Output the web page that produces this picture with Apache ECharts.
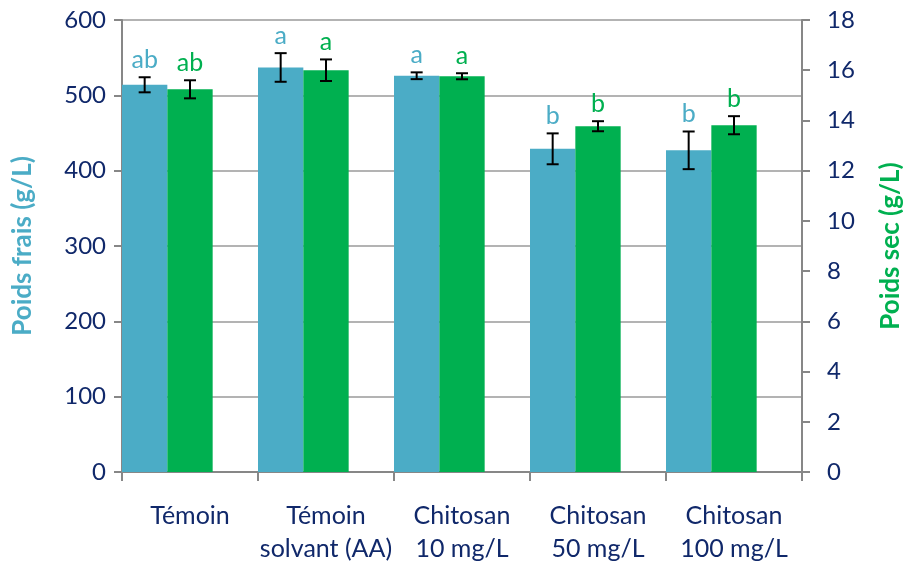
<!DOCTYPE html>
<html>
<head>
<meta charset="utf-8">
<script src="https://cdn.jsdelivr.net/npm/echarts@6/dist/echarts.min.js"></script>
<style>
html,body{margin:0;padding:0;background:#fff;}
#chart{width:903px;height:563px;}
</style>
</head>
<body>
<div id="chart"></div>
<script>
const categories = ['Témoin', 'Témoin\nsolvant (AA)', 'Chitosan\n10 mg/L', 'Chitosan\n50 mg/L', 'Chitosan\n100 mg/L'];
const freshWeight = [514, 537, 526, 429, 427];
const freshError = [10, 19, 4.5, 20.5, 25];
const freshLetters = ['ab', 'a', 'a', 'b', 'b'];
const dryWeight = [15.24, 16.0, 15.76, 13.77, 13.81];
const dryError = [0.36, 0.43, 0.12, 0.2, 0.36];
const dryLetters = ['ab', 'a', 'a', 'b', 'b'];
const leftAxis = { min: 0, max: 600, interval: 100 };
const rightAxis = { min: 0, max: 18, interval: 2 };

const BLUE = '#4BACC6';
const GREEN = '#00B050';
const NAVY = '#10286A';
const AXIS_GRAY = '#878787';
const FONT = 'Lato, "Open Sans", sans-serif';

function errorRenderer(offsetFrac, letters, color) {
  return function (params, api) {
    const i = api.value(0), v = api.value(1), e = api.value(2);
    const w = api.size([1, 0])[0];
    const c = api.coord([i, v]);
    const x = c[0] + offsetFrac * w;
    const top = api.coord([i, v + e])[1];
    const bot = api.coord([i, v - e])[1];
    const cap = 6;
    const st = { stroke: '#000', lineWidth: 2 };
    return {
      type: 'group',
      children: [
        { type: 'line', shape: { x1: x, y1: top, x2: x, y2: bot }, style: st },
        { type: 'line', shape: { x1: x - cap, y1: top, x2: x + cap, y2: top }, style: st },
        { type: 'line', shape: { x1: x - cap, y1: bot, x2: x + cap, y2: bot }, style: st },
        { type: 'text', x: x, y: top - 5,
          style: { text: letters[i], fill: color, font: '25px ' + FONT, textAlign: 'center', textVerticalAlign: 'bottom' } }
      ]
    };
  };
}

const chart = echarts.init(document.getElementById('chart'), null, { renderer: 'canvas' });
chart.setOption({
  animation: false,
  backgroundColor: '#fff',
  grid: { left: 122, right: 101, top: 20, bottom: 91, containLabel: false, outerBoundsMode: 'none' },
  xAxis: {
    type: 'category',
    data: categories,
    boundaryGap: true,
    axisLine: { show: true, lineStyle: { color: AXIS_GRAY, width: 2 } },
    axisTick: { show: true, length: 9, lineStyle: { color: AXIS_GRAY, width: 2 } },
    axisLabel: { color: NAVY, fontFamily: FONT, fontSize: 25, lineHeight: 33, margin: 27, interval: 0 }
  },
  yAxis: [
    {
      type: 'value', min: leftAxis.min, max: leftAxis.max, interval: leftAxis.interval,
      name: 'Poids frais (g/L)', nameLocation: 'middle', nameGap: 86, nameRotate: 90,
      nameTextStyle: { color: BLUE, fontFamily: FONT, fontSize: 26, fontWeight: 'bold' },
      axisLine: { show: true, lineStyle: { color: AXIS_GRAY, width: 2 } },
      axisTick: { show: true, length: 8, lineStyle: { color: AXIS_GRAY, width: 2 } },
      axisLabel: { color: NAVY, fontFamily: FONT, fontSize: 24, margin: 16 },
      splitLine: { show: true, lineStyle: { color: '#9a9a9a', width: 1.5 } }
    },
    {
      type: 'value', min: rightAxis.min, max: rightAxis.max, interval: rightAxis.interval,
      position: 'right',
      name: 'Poids sec (g/L)', nameLocation: 'middle', nameGap: 76, nameRotate: 90,
      nameTextStyle: { color: GREEN, fontFamily: FONT, fontSize: 26, fontWeight: 'bold' },
      axisLine: { show: true, lineStyle: { color: AXIS_GRAY, width: 2 } },
      axisTick: { show: true, length: 8, lineStyle: { color: AXIS_GRAY, width: 2 } },
      axisLabel: { color: NAVY, fontFamily: FONT, fontSize: 24, margin: 25 },
      splitLine: { show: false }
    }
  ],
  series: [
    { type: 'bar', yAxisIndex: 0, data: freshWeight, itemStyle: { color: BLUE }, barGap: '0%', barCategoryGap: '0%' },
    { type: 'bar', yAxisIndex: 1, data: dryWeight, itemStyle: { color: GREEN }, barGap: '0%', barCategoryGap: '0%' },
    { type: 'bar', yAxisIndex: 0, data: categories.map(() => '-'), silent: true, itemStyle: { color: 'transparent' }, barGap: '0%', barCategoryGap: '0%' },
    {
      type: 'custom', yAxisIndex: 0, z: 5,
      renderItem: errorRenderer(-1 / 3, freshLetters, BLUE),
      data: freshWeight.map((v, i) => [i, v, freshError[i]])
    },
    {
      type: 'custom', yAxisIndex: 1, z: 5,
      renderItem: errorRenderer(0, dryLetters, GREEN),
      data: dryWeight.map((v, i) => [i, v, dryError[i]])
    }
  ]
});
</script>
</body>
</html>
